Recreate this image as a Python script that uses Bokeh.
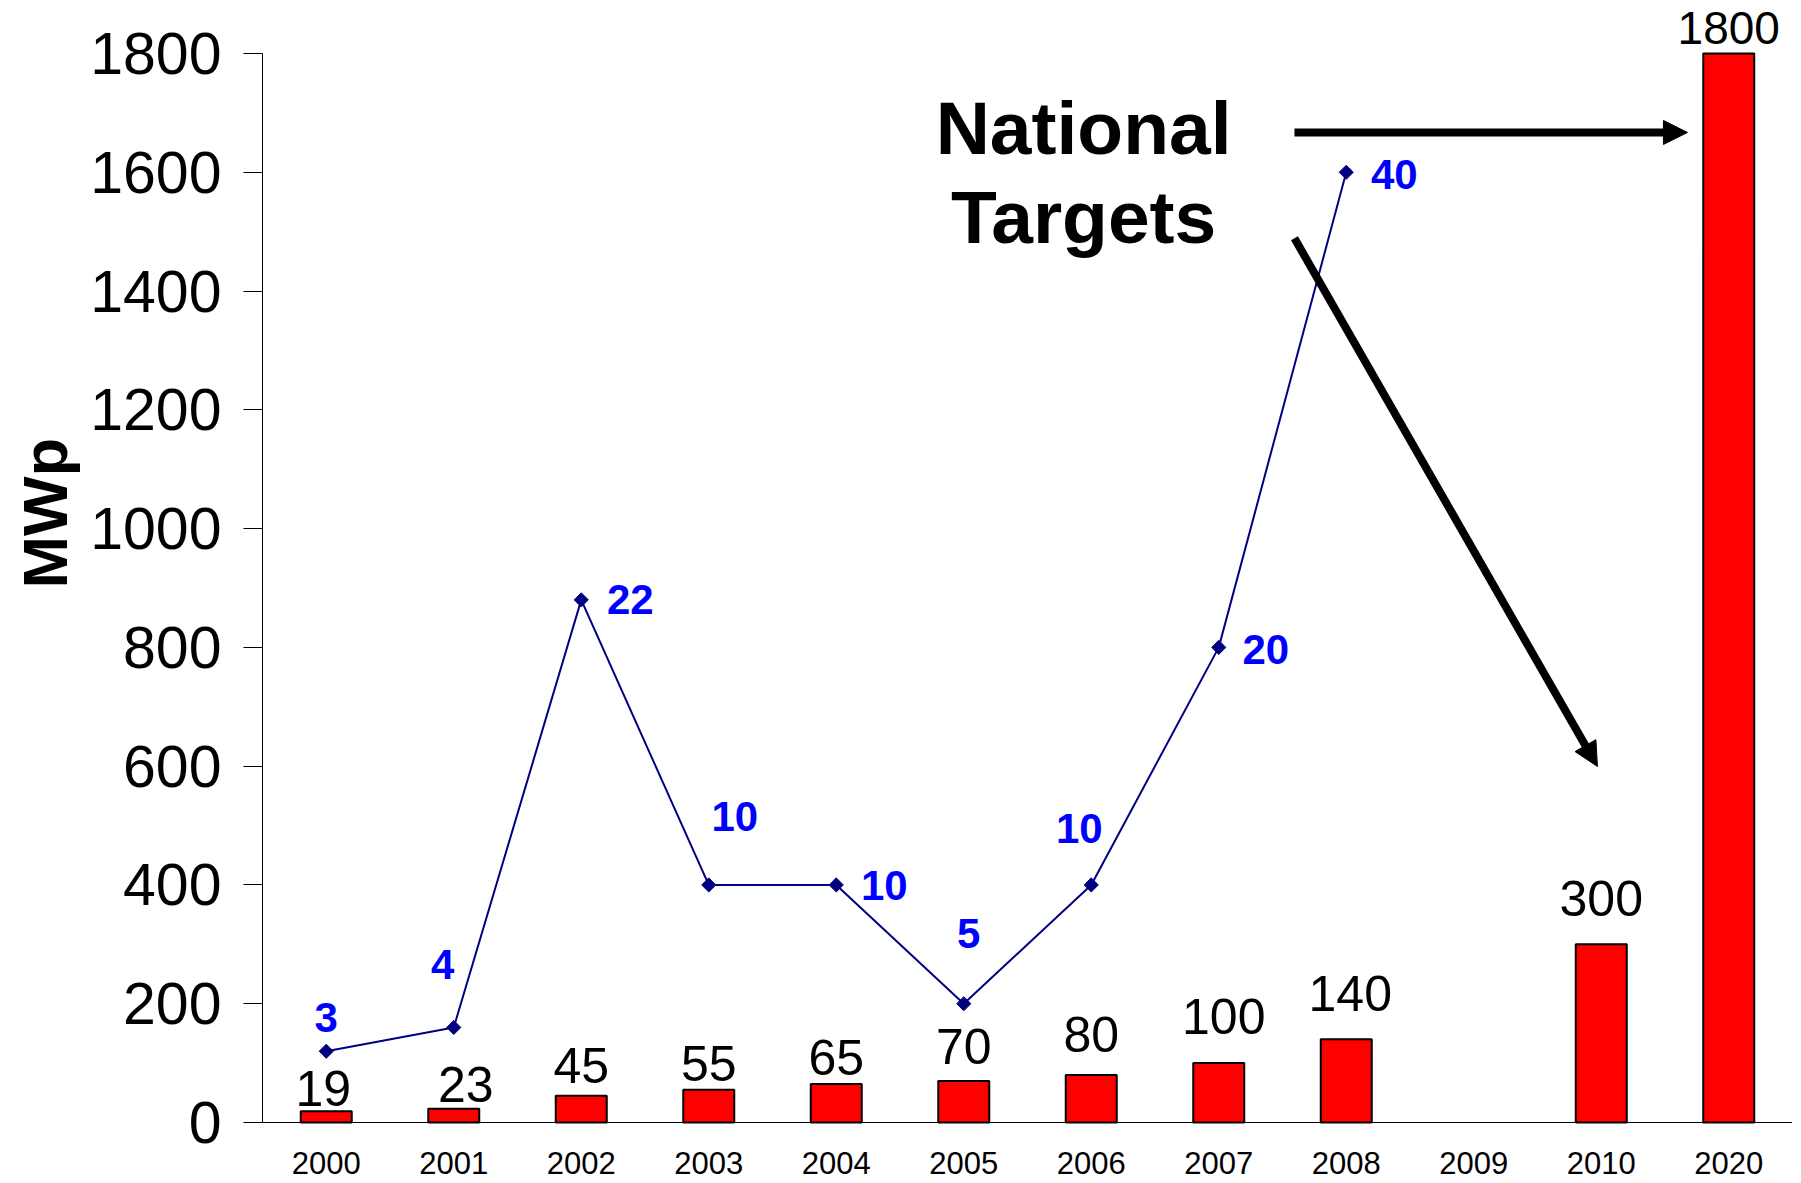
import numpy as np
from bokeh.plotting import figure
from bokeh.models import ColumnDataSource, Range1d, FactorRange, Arrow, NormalHead, Label, Title
from bokeh.core.properties import value
from bokeh.embed import file_html
from bokeh.resources import INLINE

# ---------------- data ----------------
years = ["2000", "2001", "2002", "2003", "2004", "2005", "2006",
         "2007", "2008", "2009", "2010", "2020"]
bar_years = ["2000", "2001", "2002", "2003", "2004", "2005", "2006",
             "2007", "2008", "2010", "2020"]
bar_values = [19, 23, 45, 55, 65, 70, 80, 100, 140, 300, 1800]
line_years = ["2000", "2001", "2002", "2003", "2004", "2005", "2006",
              "2007", "2008"]
line_values = [3, 4, 22, 10, 10, 5, 10, 20, 40]
y_ticks = [0, 200, 400, 600, 800, 1000, 1200, 1400, 1600, 1800]
note_lines = ["National", "Targets"]
y_title = "MWp"

# ---------------- styling (label offsets in px, up = positive) ----------------
bar_label_dx = [-3, 12, 0, 0, 0, 0, 0, 5, 4, 0, 0]
bar_label_up = [23, 24, 30, 26, 26, 34, 40, 47, 46, 46, 25]
bar_label_size = ["50px"] * 10 + ["46px"]
line_label_dx = [0, -11, 49, 26, 48, 5, -12, 47, 48]
line_label_up = [34, 63, 0, 68, -1, 70, 56, -2, -2]

Y_START, Y_END = -102.7, 1889.2
LINE_SCALE = 40  # secondary series: 40 units <-> 1600 MWp
FONT = value("Liberation Sans")

p = figure(x_range=FactorRange(factors=years), y_range=Range1d(Y_START, Y_END),
           width=1792, height=1183, output_backend="svg", toolbar_location=None,
           min_border_left=262, min_border_right=0, min_border_top=0,
           min_border_bottom=0, background_fill_color="white",
           border_fill_color="white")
p.extra_y_ranges = {"annual": Range1d(Y_START / LINE_SCALE, Y_END / LINE_SCALE)}
p.outline_line_color = None
p.xgrid.visible = False
p.ygrid.visible = False

# bars
bar_src = ColumnDataSource(dict(
    x=bar_years, top=bar_values, label=[str(v) for v in bar_values],
    dx=bar_label_dx, dy=[-g for g in bar_label_up], fs=bar_label_size))
p.vbar(x="x", top="top", width=0.4, source=bar_src,
       fill_color="#FF0000", line_color="black", line_width=2)
p.text(x="x", y="top", text="label", source=bar_src, x_offset="dx", y_offset="dy",
       text_align="center", text_baseline="middle",
       text_font=FONT, text_font_size="fs", text_color="black")

# line series
line_src = ColumnDataSource(dict(
    x=line_years, y=line_values, label=[str(v) for v in line_values],
    dx=line_label_dx, dy=[-d for d in line_label_up]))
p.line(x="x", y="y", source=line_src, y_range_name="annual",
       line_color="#000080", line_width=2)
p.scatter(x="x", y="y", source=line_src, y_range_name="annual",
          marker="square", angle=np.pi / 4, size=10,
          fill_color="#000080", line_color="#000080")
p.text(x="x", y="y", text="label", source=line_src, y_range_name="annual",
       x_offset="dx", y_offset="dy", text_align="center", text_baseline="middle",
       text_font=FONT, text_font_size="42px", text_font_style="bold",
       text_color="#0000FF")

# axes
ya = p.yaxis[0]
ya.ticker = y_ticks
ya.bounds = (0, 1800)
ya.major_label_text_font = "Liberation Sans"
ya.major_label_text_font_size = "59px"
ya.major_label_text_color = "black"
ya.major_tick_out = 19
ya.major_tick_in = 0
ya.minor_tick_line_color = None
ya.major_label_standoff = 22
ya.axis_line_color = "black"
ya.major_tick_line_color = "black"

xa = p.xaxis[0]
xa.fixed_location = 0
xa.major_tick_out = 0
xa.major_tick_in = 0
xa.major_label_text_font = "Liberation Sans"
xa.major_label_text_font_size = "31px"
xa.major_label_text_color = "black"
xa.major_label_standoff = 29
xa.axis_line_color = "black"

p.add_layout(Title(text=y_title, align="left", offset=595, standoff=15,
                   text_font="Liberation Sans", text_font_size="63px",
                   text_font_style="bold", text_color="black"), "left")

# annotations
head = dict(size=24, fill_color="black", line_color="black")
p.add_layout(Arrow(end=NormalHead(**head), x_start=8.094, y_start=1667,
                   x_end=11.176, y_end=1667, line_width=8, line_color="black"))
p.add_layout(Arrow(end=NormalHead(**head), x_start=8.094, y_start=1488.7,
                   x_end=10.47, y_end=599.5, line_width=8, line_color="black"))
for txt, yy in zip(note_lines, [1674, 1524]):
    p.add_layout(Label(x=6.44, y=yy, text=txt, text_align="center",
                       text_baseline="middle", text_font="Liberation Sans",
                       text_font_size="75px", text_font_style="bold",
                       text_color="black"))

open("out.html", "w").write(file_html(p, INLINE))
